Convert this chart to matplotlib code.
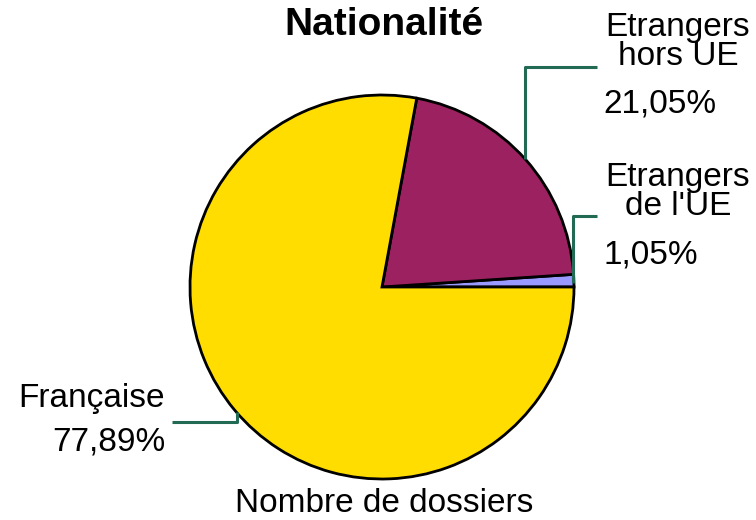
import matplotlib.pyplot as plt
import numpy as np

plt.rcParams['font.family'] = ['Liberation Sans', 'DejaVu Sans']

# data
labels = ["Etrangers\nde l'UE", "Etrangers\nhors UE", "Française"]
values = [1.05, 21.05, 77.89]
colors = ['#9999FF', '#9C2160', '#FFDD00']

W, H = 756, 520
fig = plt.figure(figsize=(W / 100, H / 100), dpi=100)
ax = fig.add_axes([0, 0, 1, 1])

cx, cy, r = 382, H - 287, 192
ax.pie(values, colors=colors, startangle=0, counterclock=True,
       center=(cx, cy), radius=r, frame=True,
       wedgeprops=dict(edgecolor='black', linewidth=2))
ax.set_xlim(0, W)
ax.set_ylim(0, H)
ax.set_aspect('equal')
ax.axis('off')


def pct(v):
    return f"{v:.2f}".replace('.', ',') + '%'


lc = '#236A55'
# leader lines (pixel coords, y measured from top)
def leader(pts):
    xs = [p[0] for p in pts]
    ys = [H - p[1] for p in pts]
    ax.plot(xs, ys, color=lc, lw=2.2, solid_capstyle='butt')


leader([(525, 159), (525, 67), (597, 67)])
leader([(573, 283), (573, 216), (597, 216)])
leader([(237, 412), (237, 422), (172, 422)])

fs = 24
ax.text(678, H - 42, labels[1], ha='center', va='center', fontsize=fs,
        linespacing=0.9)
ax.text(603, H - 104, pct(values[1]), ha='left', va='center', fontsize=fs)
ax.text(678, H - 192, labels[0], ha='center', va='center', fontsize=fs,
        linespacing=0.9)
ax.text(603, H - 255, pct(values[0]), ha='left', va='center', fontsize=fs)
ax.text(165, H - 398, labels[2], ha='right', va='center', fontsize=fs)
ax.text(165, H - 442, pct(values[2]), ha='right', va='center', fontsize=fs)

ax.text(384, H - 25, 'Nationalité', ha='center', va='center', fontsize=28,
        fontweight='bold')
ax.text(384, H - 503, 'Nombre de dossiers', ha='center', va='center',
        fontsize=fs)

fig.savefig('out.png', dpi=100)
